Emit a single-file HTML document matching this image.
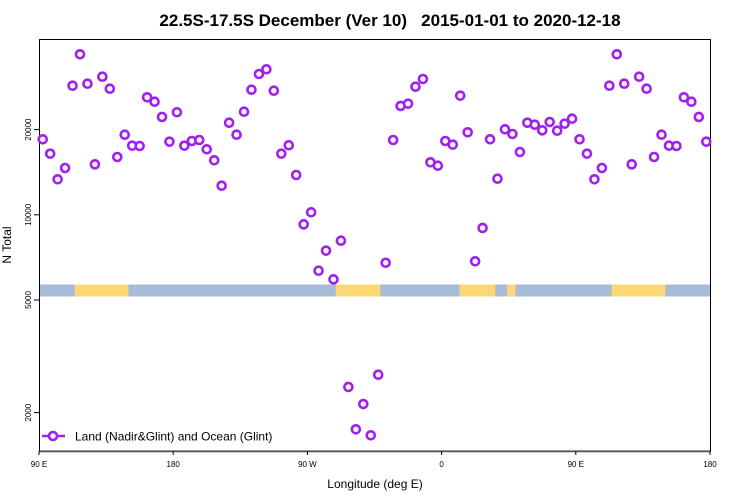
<!DOCTYPE html>
<html><head><meta charset="utf-8"><style>
body{margin:0;background:#fff}
svg{display:block;font-family:"Liberation Sans",Arial,sans-serif}
</style></head><body>
<svg id="chart" width="750" height="500" viewBox="0 0 750 500" xmlns="http://www.w3.org/2000/svg">
<text x="390" y="26" text-anchor="middle" font-size="17" font-weight="bold" style="white-space:pre">22.5S-17.5S December (Ver 10)   2015-01-01 to 2020-12-18</text>
<g id="strip"></g>
<rect x="39.5" y="39.5" width="671" height="411.5" fill="none" stroke="#000" stroke-width="1"/>
<line x1="39" y1="451.5" x2="710" y2="451.5" stroke="#555" stroke-width="1.6"/>
<g id="yticks"></g>
<g id="xticks"></g>
<text transform="translate(11,245) rotate(-90)" text-anchor="middle" font-size="12">N Total</text>
<text x="375" y="488" text-anchor="middle" font-size="12">Longitude (deg E)</text>
<g id="points"></g>
<g>
<line x1="42" y1="436" x2="65" y2="436" stroke="#a020f0" stroke-width="2.5"/>
<circle cx="53" cy="436" r="4" fill="#fff" stroke="#a020f0" stroke-width="2.6"/>
<text x="75" y="440.5" font-size="12">Land (Nadir&amp;Glint) and Ocean (Glint)</text>
</g>
</svg>
<script>
const lons = [-177.5,-172.5,-167.5,-162.5,-157.5,-152.5,-147.5,-142.5,-137.5,-132.5,-127.5,-122.5,-117.5,-112.5,-107.5,-102.5,-97.5,-92.5,-87.5,-82.5,-77.5,-72.5,-67.5,-62.5,-57.5,-52.5,-47.5,-42.5,-37.5,-32.5,-27.5,-22.5,-17.5,-12.5,-7.5,-2.5,2.5,7.5,12.5,17.5,22.5,27.5,32.5,37.5,42.5,47.5,52.5,57.5,62.5,67.5,72.5,77.5,82.5,87.5,92.5,97.5,102.5,107.5,112.5,117.5,122.5,127.5,132.5,137.5,142.5,147.5,152.5,157.5,162.5,167.5,172.5,177.5];
const totals = [23035,17550,18230,18380,17045,15580,12670,21155,19190,23140,27675,31445,32675,27450,16445,17610,13825,9255,10205,6345,7470,5915,8100,2464,1746,2145,1663,2722,6770,18380,24245,24700,28355,30190,15330,14910,18230,17695,26360,19570,6850,8985,18485,13415,20050,19300,16670,21155,20815,19885,21280,19825,20990,21860,18485,16445,13350,14635,28590,36910,29060,15080,30760,27900,16005,19190,17550,17505,26015,25100,22165,18130];
const yTicks = [2000,5000,10000,20000];
const xTickLons = [90,180,270,360,450,540];
const xTickLabels = ["90 E","180","90 W","0","90 E","180"];
const landLonStart = [114,-71,12,44];
const landLonEnd = [150,-41,36,49.5];

const NS="http://www.w3.org/2000/svg";
const X0=39, X1=710, LON0=90, LON1=540;
function xs(lon){return X0+(lon-LON0)*(X1-X0)/(LON1-LON0);}
function ys(v){return 300-283*(Math.log10(v)-Math.log10(5000));}
function mk(tag,attrs,parent){const e=document.createElementNS(NS,tag);for(const k in attrs)e.setAttribute(k,attrs[k]);parent.appendChild(e);return e;}

const strip=document.getElementById('strip');
const sb=mk('rect',{x:X0,y:284.5,width:X1-X0,height:12,fill:'#a6bcd9'},strip);


for(let i=0;i<landLonStart.length;i++){
  for(const off of [0,360]){
    let a=landLonStart[i]+off,b=landLonEnd[i]+off;
    if(a<LON0&&b<LON0)continue;
    if(a<LON0)a=LON0; if(b>LON1)b=LON1; if(a>=LON1)continue;
    const r=mk('rect',{x:xs(a),y:284.5,width:xs(b)-xs(a),height:12,fill:'#fdd775'},strip);
    
    
  }
}

const yt=document.getElementById('yticks');
yTicks.forEach(v=>{
  const y=ys(v);
  const l=mk('line',{x1:34,x2:39,y1:y,y2:y,stroke:'#000'},yt);
  
  
  const t=mk('text',{transform:`translate(31,${y}) rotate(-90)`,'text-anchor':'middle','font-size':'8'},yt);
  
  
  t.textContent=v;
});
const xt=document.getElementById('xticks');
xTickLons.forEach((lon,i)=>{
  const x=xs(lon);
  const l=mk('line',{x1:x,x2:x,y1:451,y2:455,stroke:'#000'},xt);
  
  
  const t=mk('text',{x:x,y:467,'text-anchor':'middle','font-size':'8'},xt);
  
  
  t.textContent=xTickLabels[i];
});
const pts=document.getElementById('points');
lons.forEach((lon,i)=>{
  for(const off of [0,360]){
    const L=lon+off;
    if(L<LON0||L>LON1)continue;
    const c=mk('circle',{cx:xs(L),cy:ys(totals[i]),r:4,fill:'#fff',stroke:'#a020f0','stroke-width':2.6},pts);
    
    
  }
});
</script>
</body></html>
